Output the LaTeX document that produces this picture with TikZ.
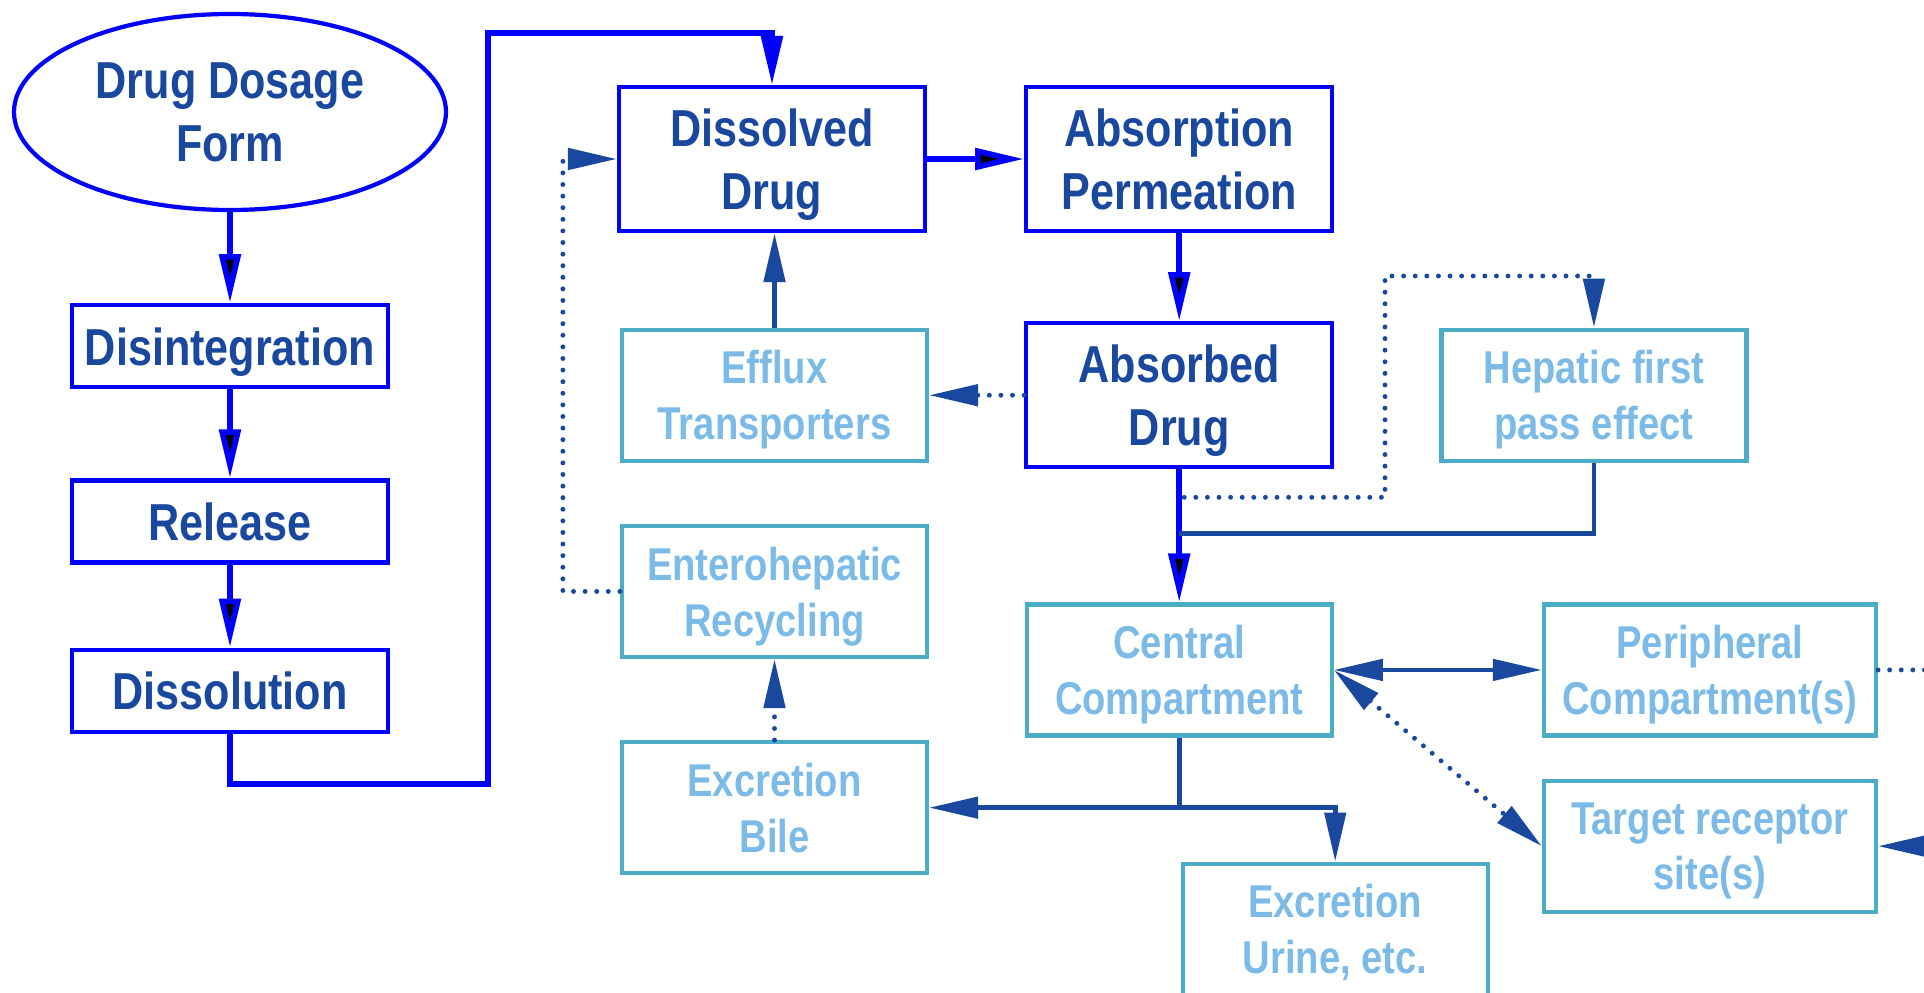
\documentclass[tikz,border=0pt]{standalone}
\usepackage{fontspec}
\usetikzlibrary{positioning,shapes.geometric,arrows.meta}
\newfontfamily\boxfont{Liberation Sans}[FakeStretch=0.83]
\definecolor{flowblue}{RGB}{0,0,255}
\definecolor{drugnavy}{RGB}{26,72,158}
\definecolor{pkframe}{RGB}{75,172,198}
\definecolor{pktext}{RGB}{124,187,232}

\begin{document}
\begin{tikzpicture}
                [>={Triangle[length=0.49cm,width=0.21cm]},
                dk/.style={rectangle,draw=flowblue,line width=1.2pt,text=drugnavy,align=center,inner sep=0pt,text depth=0pt,
                  font=\boxfont\bfseries\fontsize{14.8}{17.9}\selectfont,minimum width=3.06cm,minimum height=1.44cm},
                dksm/.style={dk,minimum width=3.16cm,minimum height=0.82cm},
                lt/.style={rectangle,draw=pkframe,line width=1.2pt,text=pktext,align=center,inner sep=0pt,text depth=0pt,
                  font=\boxfont\bfseries\fontsize{13.1}{15.9}\selectfont,minimum width=3.05cm,minimum height=1.31cm},
                bl/.style={->,draw=flowblue,line width=1.6pt},
                nv/.style={->,draw=drugnavy,line width=1.35pt},
                dt/.style={draw=drugnavy,line width=1.4pt,line cap=round,dash pattern=on 0pt off 3.3pt}]
                \useasboundingbox (0,0) rectangle (19.24,-9.93);
                \node[ellipse,draw=flowblue,line width=1.2pt,text=drugnavy,align=center,inner sep=0pt,
                  font=\boxfont\bfseries\fontsize{14.8}{17.9}\selectfont,
                  minimum width=4.32cm,minimum height=1.96cm] (form) at (2.30,-1.12) {Drug Dosage\\Form};
                \node[dksm,node distance=0.91cm] (disint)[below=of form]{Disintegration};
                \node[dksm,node distance=0.89cm] (release)[below=of disint]{Release};
                \node[dksm,node distance=0.83cm] (dissol)[below=of release]{Dissolution};
                \node[dk] (dissolved) at (7.72,-1.59) {Dissolved\\Drug};
                \node[dk,node distance=0.97cm] (absorp)[right=of dissolved]{Absorption\\Permeation};
                \node[dk,node distance=0.88cm] (absorbed)[below=of absorp]{Absorbed\\Drug};
                \node[lt,node distance=0.95cm] (efflux)[left=of absorbed]{Efflux\\Transporters};
                \node[lt,node distance=1.05cm] (hepatic)[right=of absorbed]{Hepatic first\\pass effect};
                \node[lt,node distance=0.61cm] (entero)[below=of efflux]{Enterohepatic\\Recycling};
                \node[lt,node distance=0.81cm] (bile)[below=of entero]{Excretion\\Bile};
                \node[lt,node distance=1.33cm] (central)[below=of absorbed]{Central\\Compartment};
                \node[lt,minimum width=3.32cm,node distance=2.08cm] (periph)[right=of central]{Peripheral\\Compartment(s)};
                \node[lt,minimum width=3.32cm,node distance=0.41cm] (target)[below=of periph]{Target receptor\\site(s)};
                \node[lt,node distance=1.24cm,xshift=1.56cm] (urine)[below=of central]{Excretion\\Urine, etc.};
                \coordinate (bend) at (4.88,-0.33);
                \coordinate (liver) at (13.85,-2.76);
                \coordinate[right=0.8cm of periph.east] (offp);
                \coordinate[right=0.8cm of target.east] (offt);
                \path[bl](form) edge (disint)
                         (disint) edge (release)
                         (release) edge (dissol)
                         (dissolved) edge (absorp)
                         (absorp) edge (absorbed)
                         (absorbed) edge (central);
                \draw[bl] (dissol.south) -- ++(0,-0.5) -| (bend) -| (dissolved.north);
                \draw[nv] (efflux.north) -- (efflux.north |- dissolved.south);
                \draw[dt,->] (absorbed.west) -- (efflux.east);
                \draw[dt,->] (entero.west) -- ++(-0.57,0) |- (dissolved.west);
                \draw[dt,->] (bile.north) -- (entero.south);
                \draw[dt,->] ([xshift=0.05cm,yshift=-0.28cm]absorbed.south) -| (liver) -| (hepatic.north);
                \draw[nv,-] (hepatic.south) |- ([yshift=-0.64cm]absorbed.south);
                \draw[nv] (central.south) |- (bile.east);
                \draw[nv] (central.south |- bile.east) -| (urine.north);
                \draw[nv,<->] (central.east) -- (periph.west);
                \draw[dt,<->] (central.east) -- (target.west);
                \draw[dt] (periph.east) -- (offp);
                \draw[nv] (offt) -- (target.east);
            \end{tikzpicture}
\end{document}
